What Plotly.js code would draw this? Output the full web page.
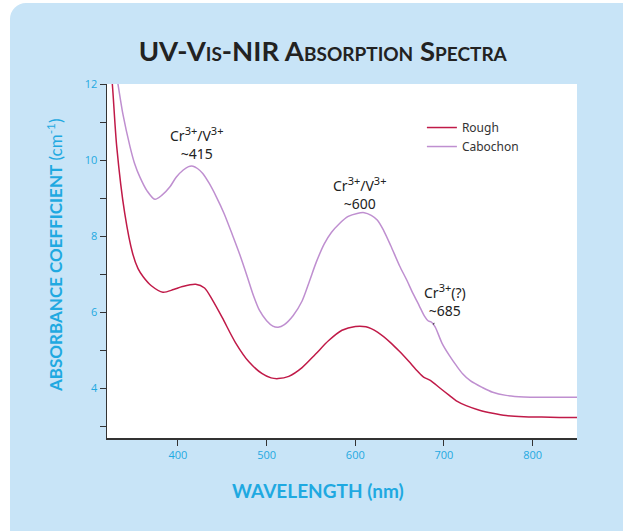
<!DOCTYPE html>
<html>
<head>
<meta charset="utf-8">
<script src="https://cdn.plot.ly/plotly-3.0.1.min.js"></script>
<style>
  html, body { margin: 0; padding: 0; width: 623px; height: 531px; overflow: hidden; background: #ffffff; }
  #panel { position: absolute; left: 10px; top: 3px; width: 640px; height: 600px; background: #c8e4f7; border-radius: 16px; }
  #chart { position: absolute; left: 0; top: 0; width: 623px; height: 531px; }
</style>
</head>
<body>
<div id="panel"></div>
<div id="chart"></div>
<script>
// Wavelength (nm) and absorbance coefficient (cm^-1)
const roughWl = [322, 326, 331, 340, 349, 355, 361, 370, 383, 395, 405, 420, 430, 439, 450, 465, 480, 495, 505, 513, 525, 540, 555, 570, 585, 600, 612, 625, 640, 650, 660, 670, 677, 685, 695, 706, 715, 725, 740, 755, 770, 790, 810, 830, 850];
const roughVal = [13.0, 12.0, 10.35, 8.6, 7.54, 7.15, 6.93, 6.7, 6.53, 6.6, 6.68, 6.74, 6.64, 6.32, 5.86, 5.2, 4.7, 4.39, 4.28, 4.26, 4.32, 4.55, 4.9, 5.26, 5.53, 5.63, 5.62, 5.48, 5.2, 4.97, 4.72, 4.46, 4.3, 4.21, 4.02, 3.82, 3.66, 3.55, 3.43, 3.35, 3.29, 3.26, 3.25, 3.24, 3.24];

const cabWl = [326, 332, 338, 346, 351, 357, 365, 374, 382, 391, 398, 406, 412, 417, 422, 428, 435, 443, 452, 462, 470, 478, 485, 492, 500, 507, 513, 520, 530, 540, 548, 556, 565, 573, 582, 592, 602, 610, 618, 625, 632, 640, 650, 658, 665, 672, 678, 682, 686, 690, 698, 706, 714, 721, 730, 743, 755, 770, 790, 810, 830, 850];
const cabVal = [12.9, 12.05, 11.2, 10.35, 9.92, 9.56, 9.2, 8.97, 9.08, 9.3, 9.55, 9.74, 9.83, 9.84, 9.78, 9.65, 9.4, 9.05, 8.6, 8.0, 7.5, 6.95, 6.45, 6.05, 5.78, 5.64, 5.61, 5.68, 5.92, 6.3, 6.8, 7.32, 7.8, 8.1, 8.33, 8.52, 8.6, 8.62, 8.55, 8.42, 8.15, 7.75, 7.22, 6.85, 6.5, 6.18, 5.9, 5.78, 5.74, 5.62, 5.18, 4.87, 4.6, 4.39, 4.2, 4.03, 3.9, 3.82, 3.78, 3.77, 3.77, 3.77];

const seriesNames = ["Rough", "Cabochon"];
const sup = s => '<sup><span style="font-size:11px">' + s + '</span></sup>';
const bandLabels = ["Cr" + sup("3+") + "/V" + sup("3+") + "<br>~415", "Cr" + sup("3+") + "/V" + sup("3+") + "<br>~600", "Cr" + sup("3+") + "(?)<br>~685"];
const chartTitle = "UV-Vis-NIR Absorption Spectra";
const xTitle = "WAVELENGTH (nm)";
const yTitle = "<b>ABSORBANCE COEFFICIENT</b> (cm<sup>-1</sup>)";

const cyan = "#1fa9e1";
const axisCol = "#333333";

const traces = [
  { x: roughWl, y: roughVal, name: seriesNames[0], type: "scatter", mode: "lines",
    line: { color: "#c01a48", width: 1.5, shape: "spline", smoothing: 0.8 } },
  { x: cabWl, y: cabVal, name: seriesNames[1], type: "scatter", mode: "lines",
    line: { color: "#bf8fd0", width: 1.5, shape: "spline", smoothing: 0.8 } }
];

const annFont = { family: "Noto Sans, sans-serif", size: 14, color: "#222222" };

const layout = {
  width: 623, height: 531,
  margin: { l: 107, r: 46, t: 84, b: 93 },
  paper_bgcolor: "rgba(0,0,0,0)",
  plot_bgcolor: "#ffffff",
  showlegend: true,
  title: { text: "<b>" + chartTitle + "</b>", x: 0.518, xanchor: "center", y: 0.903, yanchor: "middle",
    font: { family: "Lato, sans-serif", size: 27.5, color: "#222222", variant: "small-caps" } },
  xaxis: {
    range: [320, 850], showline: true, linecolor: axisCol, linewidth: 1.5, mirror: false,
    ticks: "outside", ticklen: 6, tickwidth: 1, tickcolor: axisCol,
    tickvals: [400, 500, 600, 700, 800], showgrid: false, zeroline: false,
    tickfont: { family: "Open Sans, sans-serif", size: 11, color: cyan }
  },
  yaxis: {
    range: [2.7, 12], showline: true, linecolor: axisCol, linewidth: 1.5,
    ticks: "outside", ticklen: 6, tickwidth: 1, tickcolor: axisCol,
    tickvals: [4, 6, 8, 10, 12], showgrid: false, zeroline: false,
    minor: { tickvals: [3, 5, 7, 9, 11], ticks: "outside", ticklen: 6, tickwidth: 1, tickcolor: axisCol, showgrid: false },
    tickfont: { family: "Open Sans, sans-serif", size: 11, color: cyan }
  },
  legend: { x: 0.67, y: 0.918, xanchor: "left", yanchor: "top", bgcolor: "rgba(0,0,0,0)",
    font: { family: "Noto Sans, sans-serif", size: 12, color: "#333333" }, itemwidth: 30 },
  annotations: [
    { text: bandLabels[0], x: 421, y: 10.45, xref: "x", yref: "y", showarrow: false, font: annFont, align: "center" },
    { text: bandLabels[1], x: 604.5, y: 9.13, xref: "x", yref: "y", showarrow: false, font: annFont, align: "center" },
    { text: bandLabels[2], x: 688, y: 5.68, xref: "x", yref: "y", showarrow: true, arrowhead: 0, arrowwidth: 1,
      arrowcolor: "#222222", ax: 12, ay: -25, startstandoff: 2, font: annFont, align: "center" },
    { text: "<b>" + xTitle + "</b>", x: 0.5, xref: "paper", xanchor: "center", y: 0, yref: "paper", showarrow: false,
      font: { family: "Lato, sans-serif", size: 19, color: cyan } },
    { text: yTitle, textangle: -90, x: 0, y: 0, showarrow: false,
      font: { family: "Lato, sans-serif", size: 17, color: cyan } }
  ]
};

// position axis titles in pixel terms converted to paper coordinates
const plotW = 623 - 107 - 46, plotH = 531 - 84 - 93;
layout.annotations[3].x = (318 - 107) / plotW;
layout.annotations[3].y = (531 - 93 - 490) / plotH;
layout.annotations[3].yanchor = "middle";
layout.annotations[4].xref = "paper"; layout.annotations[4].yref = "paper";
layout.annotations[4].x = (54 - 107) / plotW;
layout.annotations[4].y = (531 - 93 - 255) / plotH;
layout.annotations[4].xanchor = "center"; layout.annotations[4].yanchor = "middle";

Plotly.newPlot("chart", traces, layout, { displayModeBar: false, staticPlot: true });
</script>
</body>
</html>
